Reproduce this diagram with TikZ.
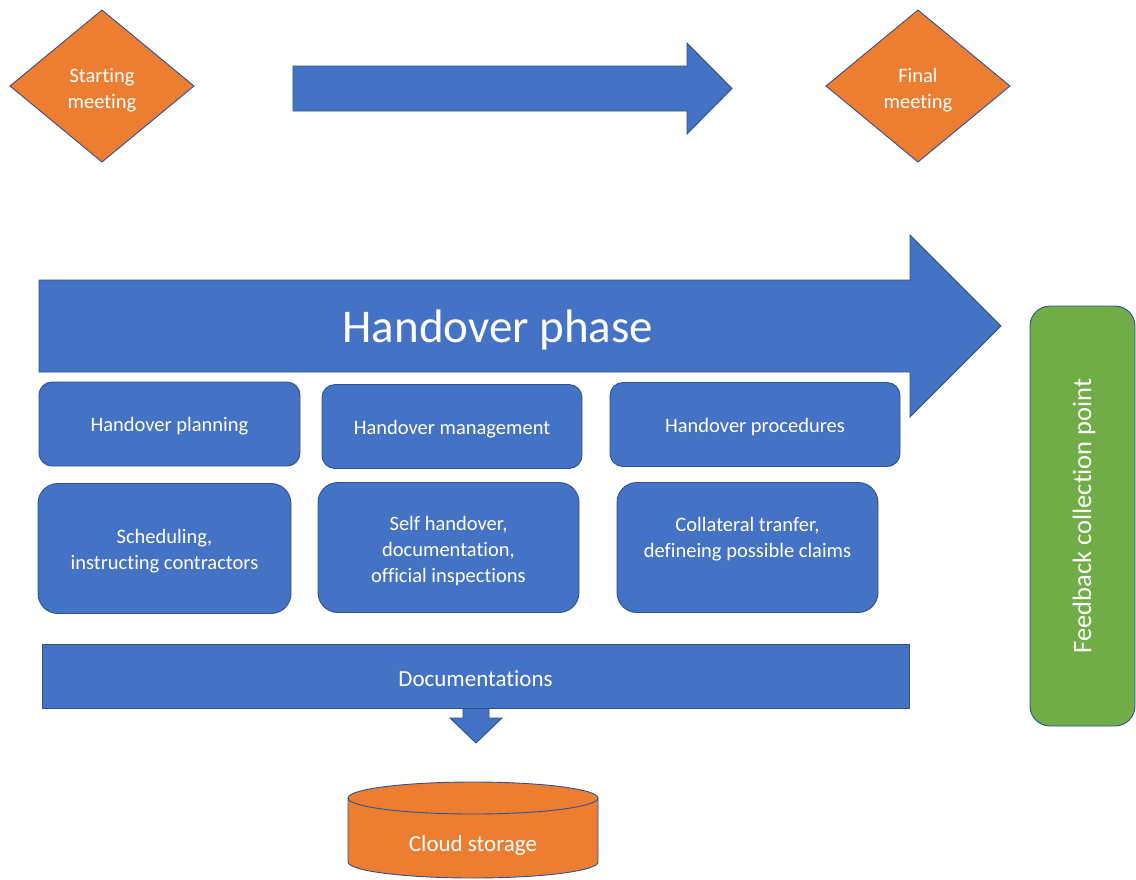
\documentclass[tikz,border=0pt]{standalone}
\usepackage{fontspec}
\setmainfont[Ligatures=NoCommon]{Carlito}
\definecolor{boxblue}{HTML}{4472C4}
\definecolor{edgeblue}{HTML}{2F528F}
\definecolor{boxorange}{HTML}{ED7D31}
\definecolor{boxgreen}{HTML}{70AD47}
\begin{document}
\begin{tikzpicture}[x=1pt,y=-1pt,
  outline/.style={draw=edgeblue, line width=0.9pt, line join=miter},
  bluefill/.style={outline, fill=boxblue},
  orangefill/.style={outline, fill=boxorange},
  whitetext/.style={text=white, align=center, inner sep=0pt, font=\fontsize{20.5}{26}\selectfont},
  smallbox/.style={bluefill, rounded corners=13pt, inner sep=0pt, minimum height=84pt},
  bigbox/.style={bluefill, rounded corners=20pt, inner sep=0pt, minimum height=130pt},
]
\useasboundingbox (0,0) rectangle (1136,879);

% start and end milestones
\draw[orangefill] (10,86) -- (102,10) -- (194,86) -- (102,162) -- cycle;
\node[whitetext] (start) at (102,90) {Starting\\meeting};
\draw[orangefill] (826,86) -- (918,10) -- (1010,86) -- (918,162) -- cycle;
\node[whitetext] (final) at (918,90) {Final\\meeting};

% timeline arrow between the meetings
\draw[bluefill] (293,66) -- (687,66) -- (687,43) -- (732,88.5) -- (687,134) -- (687,111) -- (293,111) -- cycle;

% phase arrow
\draw[bluefill] (39,280) -- (910,280) -- (910,235) -- (1001,326) -- (910,417) -- (910,372) -- (39,372) -- cycle;
\node[whitetext, font=\fontsize{47}{50}\selectfont] (phase) at (498,330) {Handover phase};

% sub-processes
\node[smallbox, minimum width=261pt] (plan) at (169.5,424) {};
\node[whitetext] at (169.5,426.5) {Handover planning};
\node[smallbox, minimum width=260pt] (mgmt) at (452,426.5) {};
\node[whitetext] at (452,429) {Handover management};
\node[smallbox, minimum width=290pt] (proc) at (755,424.5) {};
\node[whitetext] at (755,427) {Handover procedures};

% task details
\node[bigbox, minimum width=253pt] (sched) at (164.5,548.5) {};
\node[whitetext] at (164.5,551) {Scheduling,\\instructing contractors};
\node[bigbox, minimum width=261pt] (self) at (448.5,547.5) {};
\node[whitetext] at (448.5,551) {Self handover,\\documentation,\\official inspections};
\node[bigbox, minimum width=261pt] (coll) at (747.5,547.5) {};
\node[whitetext] at (747.5,539.5) {Collateral tranfer,\\defineing possible claims};

% documentation flow into storage
\draw[bluefill] (463,706) -- (489,706) -- (489,718) -- (502,718) -- (476,743) -- (450,718) -- (463,718) -- cycle;
\node[bluefill, minimum width=867pt, minimum height=64pt, inner sep=0pt] (docs) at (475.5,676) {};
\node[whitetext, font=\fontsize{23}{27}\selectfont] at (475.5,678.5) {Documentations};

\fill[boxorange] (348,798) -- (348,862) arc[start angle=180, end angle=360, x radius=125pt, y radius=16pt]
  -- (598,798) arc[start angle=0, end angle=180, x radius=125pt, y radius=16pt] -- cycle;
\draw[outline] (348,798) -- (348,862) arc[start angle=180, end angle=360, x radius=125pt, y radius=16pt] -- (598,798);
\draw[outline] (473,798) ellipse[x radius=125pt, y radius=16pt];
\node[whitetext, font=\fontsize{23}{27}\selectfont] (cloud) at (473,845) {Cloud storage};

% feedback column
\node[outline, fill=boxgreen, rounded corners=20pt, minimum width=105pt, minimum height=420pt, inner sep=0pt] (fb) at (1082.5,516) {};
\node[whitetext, rotate=90, font=\fontsize{26.5}{30}\selectfont] at (1084,516) {Feedback collection point};
\end{tikzpicture}
\end{document}
